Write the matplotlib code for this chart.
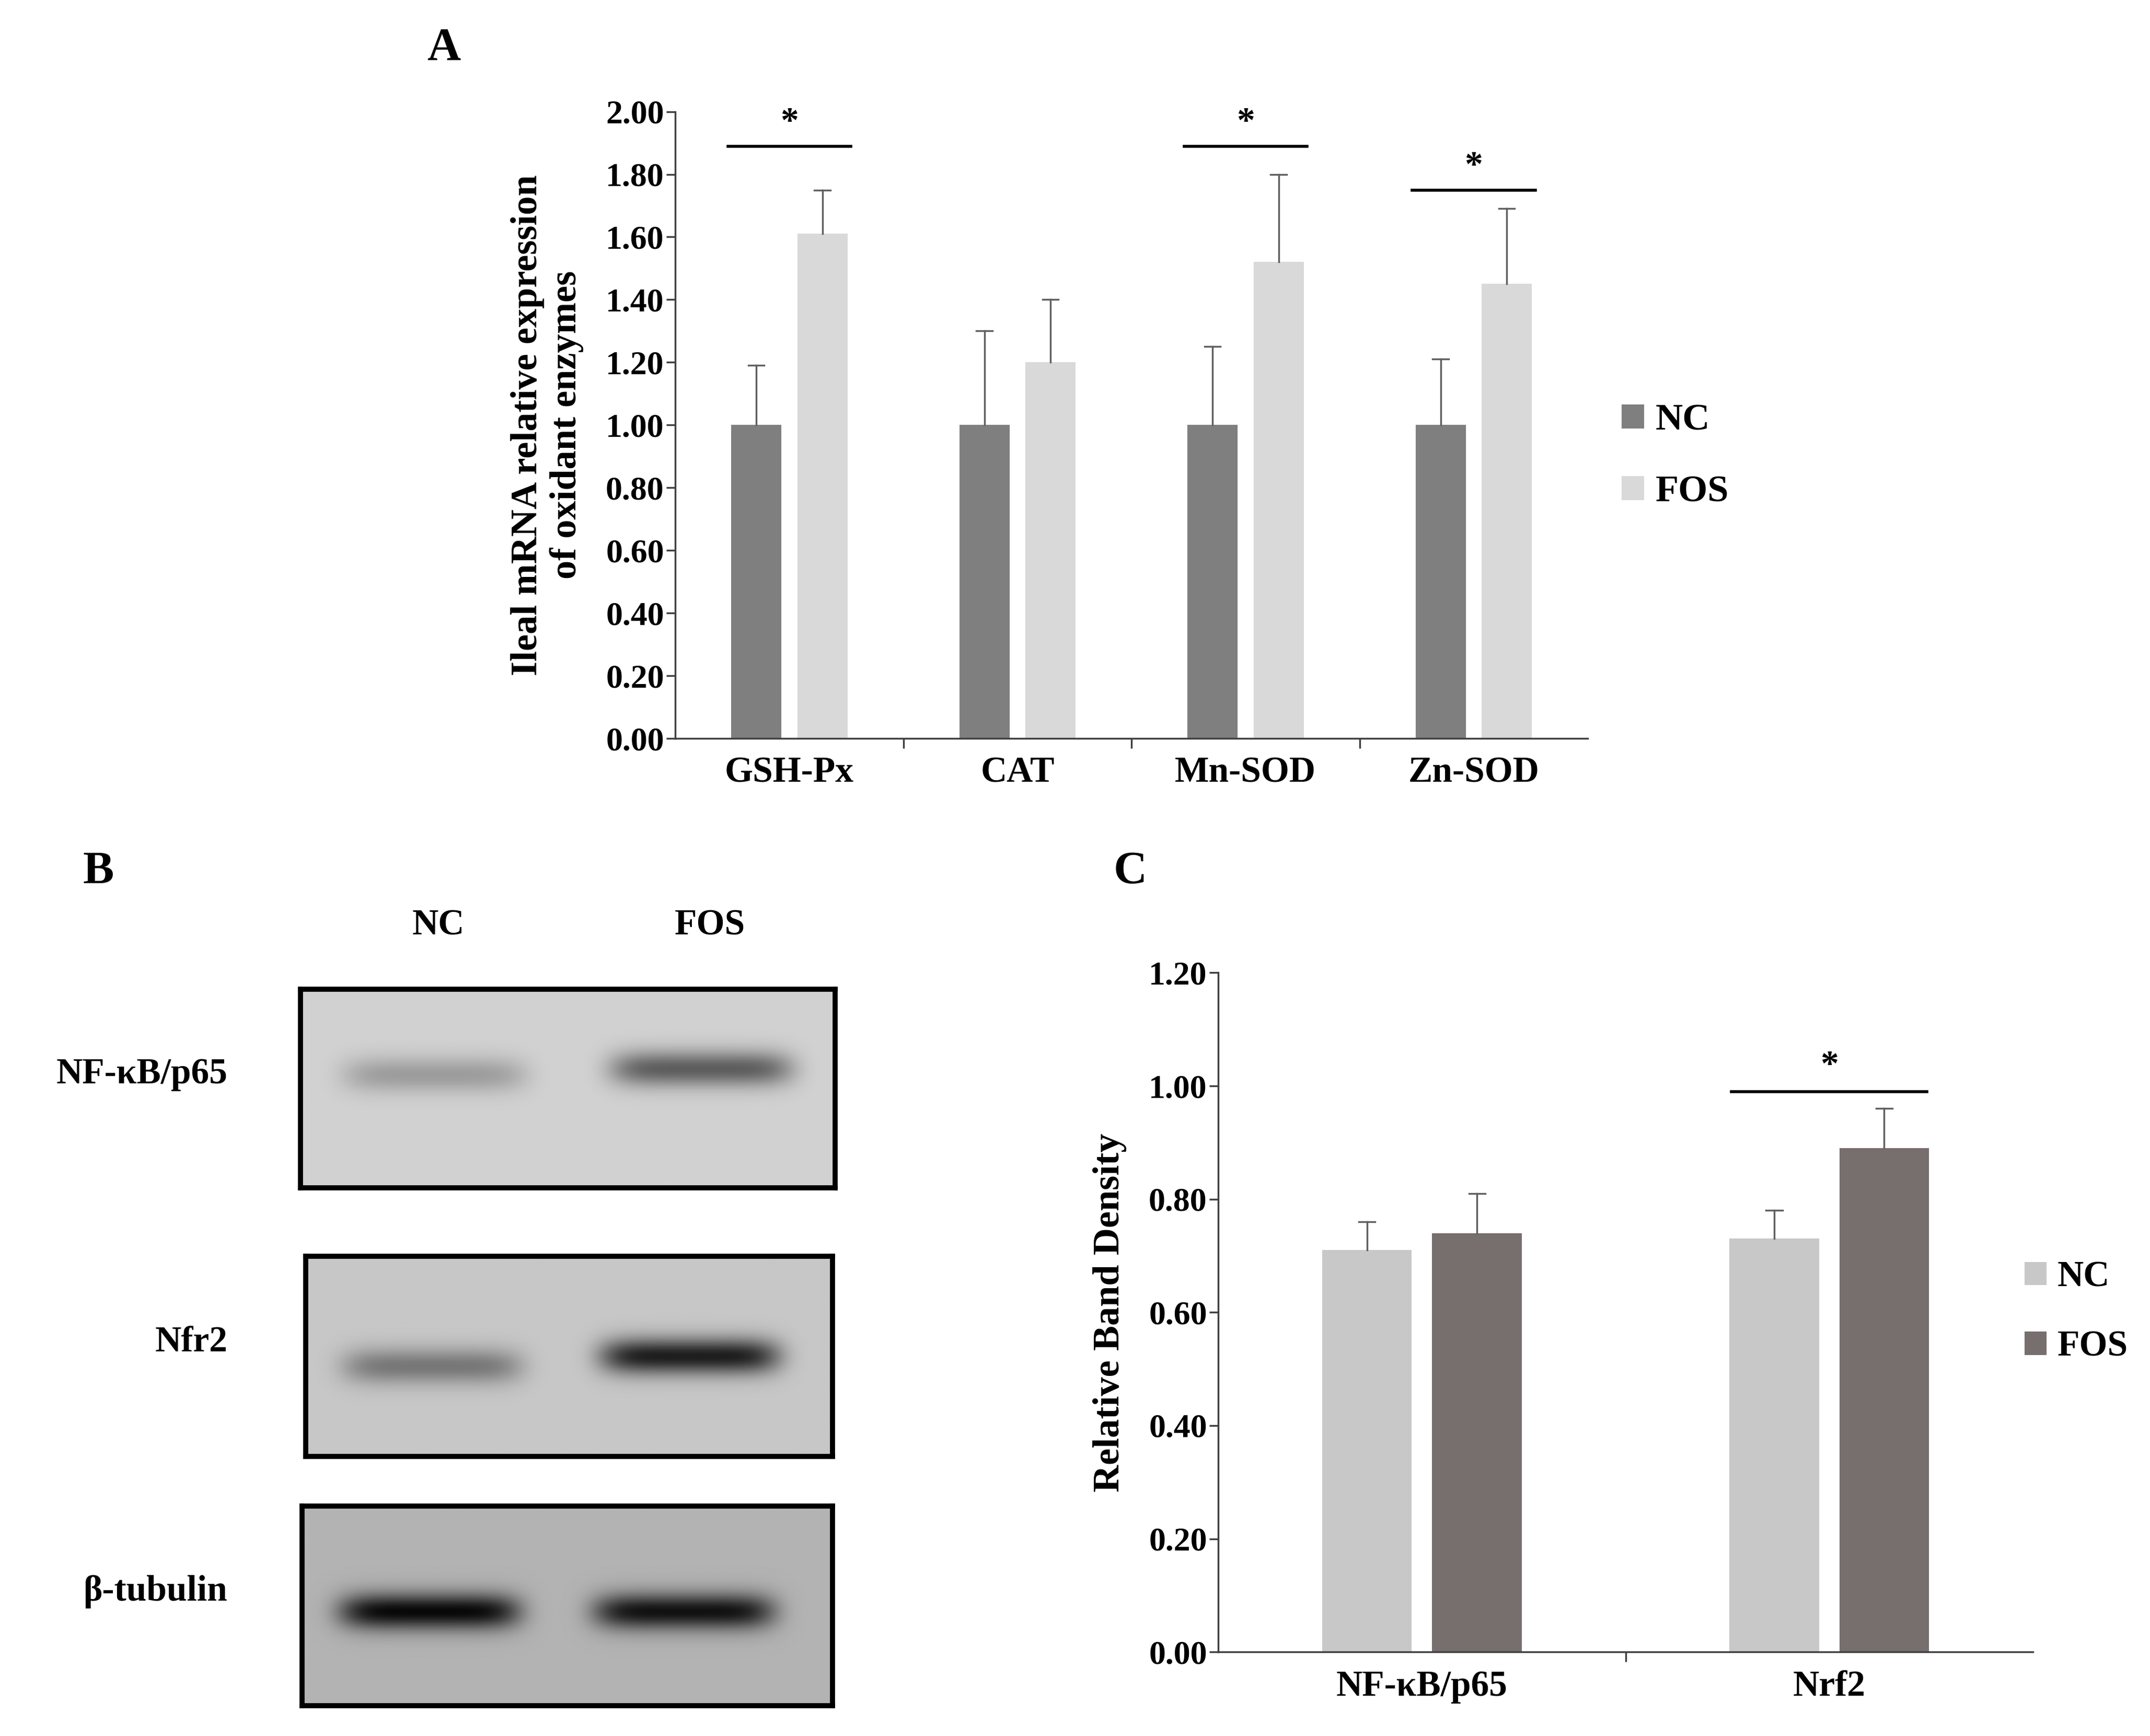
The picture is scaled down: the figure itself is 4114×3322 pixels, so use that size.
import matplotlib
matplotlib.use("Agg")
import matplotlib.pyplot as plt
import numpy as np

plt.rcParams['font.family'] = ['Liberation Serif', 'DejaVu Serif']
plt.rcParams['font.weight'] = 'bold'
plt.rcParams['axes.labelweight'] = 'bold'

# panel A data
enzymes = ['GSH-Px', 'CAT', 'Mn-SOD', 'Zn-SOD']
a_nc = [1.00, 1.00, 1.00, 1.00]
a_nc_err = [0.19, 0.30, 0.25, 0.21]
a_fos = [1.61, 1.20, 1.52, 1.45]
a_fos_err = [0.14, 0.20, 0.28, 0.24]
a_sig = [0, 2, 3]
a_sig_y = [1.89, 1.89, 1.75]

# panel C data
proteins = ['NF-κB/p65', 'Nrf2']
c_nc = [0.71, 0.73]
c_nc_err = [0.05, 0.05]
c_fos = [0.74, 0.89]
c_fos_err = [0.07, 0.07]
c_sig_y = 0.99

W, H = 1560, 1260
fig = plt.figure(figsize=(41.14, 33.22), dpi=100)

def ax_px(x0, y0, x1, y1):
    return fig.add_axes([x0 / W, 1 - y1 / H, (x1 - x0) / W, (y1 - y0) / H])

def style(ax):
    for s in ['top', 'right']:
        ax.spines[s].set_visible(False)
    for s in ['left', 'bottom']:
        ax.spines[s].set_linewidth(2.5)
        ax.spines[s].set_color('#404040')

def up_err(ax, xs, ys, errs, cap):
    # error bars drawn upward only, cap on top
    for xv, yv, e in zip(xs, ys, errs):
        ax.plot([xv, xv], [yv, yv + e], color='#606060', lw=2.5)
        ax.plot([xv - cap, xv + cap], [yv + e, yv + e], color='#606060', lw=2.5)

# ---- Panel A
ax = ax_px(490, 81, 1152, 536)
x = np.arange(len(enzymes))
bw = 0.22
ax.bar(x - 0.145, a_nc, bw, color='#7f7f7f', label='NC')
ax.bar(x + 0.145, a_fos, bw, color='#d9d9d9', label='FOS')
up_err(ax, x - 0.145, a_nc, a_nc_err, 0.035)
up_err(ax, x + 0.145, a_fos, a_fos_err, 0.035)
ax.set_xlim(-0.5, 3.5)
ax.set_ylim(0, 2.0)
ax.set_yticks(np.arange(0, 2.01, 0.2))
ax.set_yticklabels([f'{v:.2f}' for v in np.arange(0, 2.01, 0.2)])
ax.set_xticks(x)
ax.set_xticklabels(enzymes)
ax.set_xticks(np.arange(0.5, 3.5, 1), minor=True)
ax.tick_params(axis='x', which='major', length=0, pad=25, labelsize=50)
ax.tick_params(axis='x', which='minor', length=14, width=2.5, color='#404040')
ax.tick_params(axis='y', length=12, width=2.5, labelsize=46, color='#404040')
style(ax)
for i, yy in zip(a_sig, a_sig_y):
    ax.plot([i - 0.27, i + 0.27], [yy, yy], color='black', lw=4)
    ax.text(i, yy + 0.02, '*', ha='center', va='bottom', fontsize=50)
ax.set_ylabel('Ileal mRNA relative expression\nof oxidant enzymes', fontsize=52,
              labelpad=30, fontweight='bold')
ax.legend(loc='center left', bbox_to_anchor=(1.0, 0.45), frameon=False, fontsize=52,
          handlelength=0.6, handleheight=0.6, labelspacing=1.0, handletextpad=0.3)
fig.text(310 / W, 1 - 35 / H, 'A', fontsize=64, ha='left', va='center')

# ---- Panel C
ax2 = ax_px(884, 706, 1475, 1199)
xc = np.arange(len(proteins))
ax2.bar(xc - 0.135, c_nc, bw, color='#c8c8c8', label='NC')
ax2.bar(xc + 0.135, c_fos, bw, color='#776e6e', label='FOS')
up_err(ax2, xc - 0.135, c_nc, c_nc_err, 0.02)
up_err(ax2, xc + 0.135, c_fos, c_fos_err, 0.02)
ax2.set_xlim(-0.5, 1.5)
ax2.set_ylim(0, 1.2)
yt = np.arange(0, 1.21, 0.2)
ax2.set_yticks(yt)
ax2.set_yticklabels([f'{v:.2f}' for v in yt])
ax2.set_xticks(xc)
ax2.set_xticklabels(proteins)
ax2.set_xticks([0.5], minor=True)
ax2.tick_params(axis='x', which='major', length=0, pad=25, labelsize=50)
ax2.tick_params(axis='x', which='minor', length=14, width=2.5, color='#404040')
ax2.tick_params(axis='y', length=12, width=2.5, labelsize=46, color='#404040')
style(ax2)
ax2.plot([1 - 0.24, 1 + 0.24], [c_sig_y, c_sig_y], color='black', lw=4)
ax2.text(1, c_sig_y + 0.015, '*', ha='center', va='bottom', fontsize=50)
ax2.set_ylabel('Relative Band Density', fontsize=52, labelpad=30, fontweight='bold')
ax2.legend(loc='center left', bbox_to_anchor=(0.95, 0.5), frameon=False, fontsize=50,
           handlelength=0.6, handleheight=0.6, labelspacing=1.0, handletextpad=0.3)
fig.text(808 / W, 1 - 633 / H, 'C', fontsize=64, ha='left', va='center')

# ---- Panel B (western blot sketches)
fig.text(60 / W, 1 - 633 / H, 'B', fontsize=64, ha='left', va='center')
fig.text(318 / W, 1 - 672 / H, 'NC', fontsize=50, ha='center', va='center')
fig.text(515 / W, 1 - 672 / H, 'FOS', fontsize=50, ha='center', va='center')

blots = [
    ((218, 718, 606, 862), 'NF-κB/p65', [(0.25, 0.43, 0.25), (0.75, 0.40, 0.55)], 0.82),
    ((222, 912, 604, 1057), 'Nfr2', [(0.24, 0.55, 0.40), (0.73, 0.50, 0.85)], 0.78),
    ((219, 1093, 604, 1238), 'β-tubulin', [(0.24, 0.53, 0.95), (0.72, 0.53, 0.90)], 0.70),
]
gx = np.linspace(0, 1, 400)
gy = np.linspace(0, 1, 150)
GX, GY = np.meshgrid(gx, gy)
for (x0, y0, x1, y1), lab, bands, bg in blots:
    b = ax_px(x0, y0, x1, y1)
    img = np.full(GX.shape, bg)
    for cx, cy, strength in bands:
        band = strength * np.exp(-((GX - cx) / 0.17) ** 6) * np.exp(-((GY - cy) / 0.09) ** 2)
        img -= band * bg
    b.imshow(img, cmap='gray', vmin=0, vmax=1, aspect='auto', extent=[0, 1, 1, 0])
    b.set_xticks([]); b.set_yticks([])
    for s in b.spines.values():
        s.set_linewidth(7)
        s.set_color('black')
    fig.text(165 / W, 1 - ((y0 + y1) / 2 - 10) / H, lab, fontsize=50, ha='right', va='center')

fig.savefig('out.png', dpi=100, facecolor='white')
